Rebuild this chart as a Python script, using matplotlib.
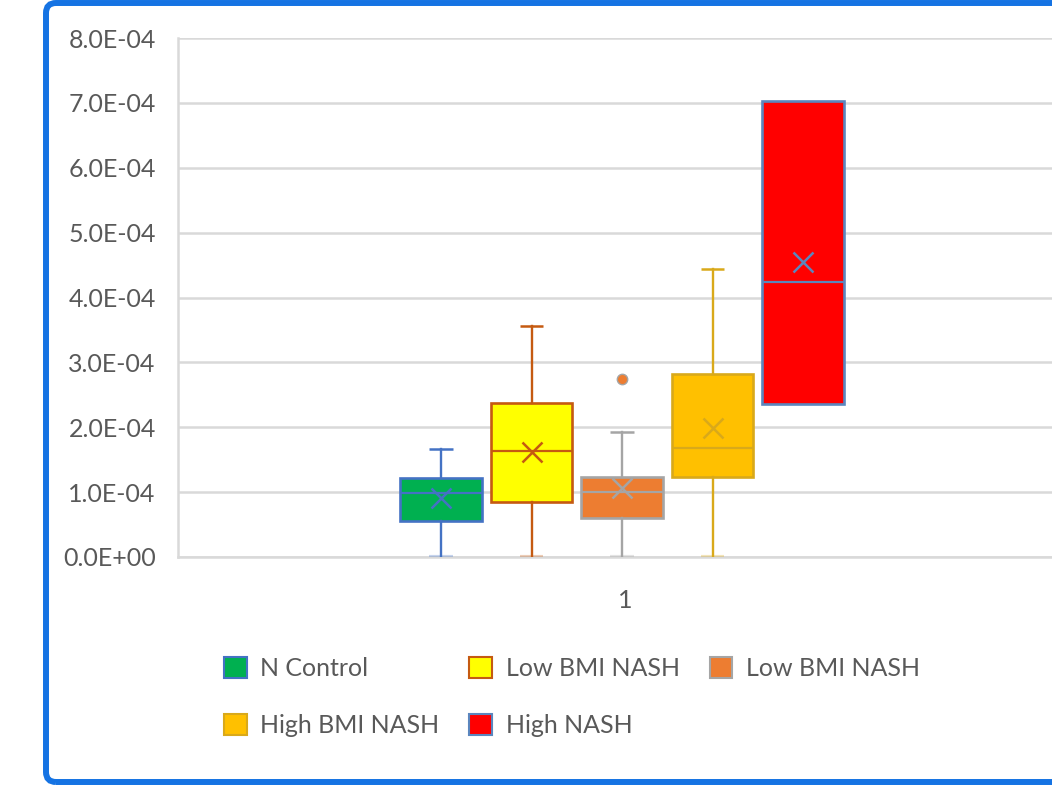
import matplotlib.pyplot as plt
from matplotlib.patches import Patch, FancyBboxPatch
from matplotlib.transforms import IdentityTransform
from matplotlib.ticker import FuncFormatter

# ==== 字体 ====
plt.rcParams['font.family'] = ['Lato', 'DejaVu Sans']

# ========= 数据 =========
groups = ["N Control", "Low BMI NASH", "Low BMI NASH", "High BMI NASH", "High NASH"]
q1 = [0.55e-4, 0.85e-4, 0.60e-4, 1.23e-4, 2.36e-4]
median = [0.99e-4, 1.63e-4, 1.00e-4, 1.68e-4, 4.24e-4]
q3 = [1.22e-4, 2.37e-4, 1.23e-4, 2.82e-4, 7.03e-4]
whisker_low = [0.0, 0.0, 0.0, 0.0, 2.36e-4]
whisker_high = [1.66e-4, 3.56e-4, 1.93e-4, 4.44e-4, 7.03e-4]
mean = [0.91e-4, 1.62e-4, 1.06e-4, 1.99e-4, 4.55e-4]
outliers = [[], [], [2.74e-4], [], []]
category = "1"
y_ticks = [0, 1e-4, 2e-4, 3e-4, 4e-4, 5e-4, 6e-4, 7e-4, 8e-4]

fill_colors = ["#00B050", "#FFFF00", "#ED7D31", "#FFC000", "#FF0000"]
line_colors = ["#4472C4", "#C55A11", "#A5A5A5", "#D9A91A", "#5B86BE"]
text_color = "#595959"
grid_color = "#D9D9D9"

W, H = 1052, 793
fig = plt.figure(figsize=(W / 100, H / 100), dpi=100)

# 外框（蓝色圆角）
frame = FancyBboxPatch((46, 11), 1100, 779, boxstyle="round,pad=0,rounding_size=10",
                       transform=IdentityTransform(), facecolor="none",
                       edgecolor="#1573E3", linewidth=4.3, zorder=5)
fig.patches.append(frame)

ax = fig.add_axes([178 / W, 236 / H, 894 / W, 519 / H])
ax.set_facecolor("none")

positions = [1, 2, 3, 4, 5]
stats = []
for i in range(len(groups)):
    stats.append(dict(med=median[i], q1=q1[i], q3=q3[i], whislo=whisker_low[i],
                      whishi=whisker_high[i], mean=mean[i], fliers=outliers[i],
                      label=groups[i]))

bp = ax.bxp(stats, positions=positions, widths=0.9, patch_artist=True,
            showmeans=True, showcaps=False, zorder=3)

for i, box in enumerate(bp['boxes']):
    box.set_facecolor(fill_colors[i])
    box.set_edgecolor(line_colors[i])
    box.set_linewidth(1.9)
    bp['medians'][i].set_color(line_colors[i])
    bp['medians'][i].set_linewidth(1.6)
    bp['means'][i].set(marker='x', markersize=14.5, markeredgewidth=1.8,
                       markeredgecolor=line_colors[i])
    bp['fliers'][i].set(marker='o', markersize=7.5, markerfacecolor=fill_colors[i],
                        markeredgecolor=line_colors[i], markeredgewidth=1)
for j, wl in enumerate(bp['whiskers']):
    wl.set_color(line_colors[j // 2])
    wl.set_linewidth(1.7)

# 须的端线：下端颜色较浅
for i in range(len(groups)):
    if whisker_high[i] > q3[i]:
        ax.hlines(whisker_high[i], positions[i] - 0.13, positions[i] + 0.13,
                  color=line_colors[i], linewidth=1.8, zorder=3)
    if whisker_low[i] < q1[i]:
        ax.hlines(whisker_low[i], positions[i] - 0.13, positions[i] + 0.13,
                  color=line_colors[i], linewidth=3, alpha=0.3, zorder=3)

ax.set_xlim(-1.906, 7.972)
ax.set_ylim(0, 8e-4)
ax.set_yticks(y_ticks)
ax.yaxis.set_major_formatter(FuncFormatter(lambda v, p: "{:.1E}".format(v)))
ax.set_xticks([sum(ax.get_xlim()) / 2])
ax.set_xticklabels([category])
ax.tick_params(axis='both', length=0, labelsize=18, labelcolor=text_color)
ax.tick_params(axis='y', pad=16)
ax.tick_params(axis='x', pad=23)
ax.grid(axis='y', color=grid_color, linewidth=1.8, zorder=1)
ax.set_axisbelow(True)
for s in ['top', 'right']:
    ax.spines[s].set_visible(False)
for s in ['left', 'bottom']:
    ax.spines[s].set_color(grid_color)
    ax.spines[s].set_linewidth(1.8)

# 图例（按行排列）
handles = [Patch(facecolor=fill_colors[i], edgecolor=line_colors[i], linewidth=1.5)
           for i in range(len(groups))]
order = [0, 3, 1, 4, 2]
fig.legend([handles[k] for k in order], [groups[k] for k in order], ncol=3,
           loc='upper left', bbox_to_anchor=(224 / W, 1 - 657 / H), frameon=False,
           fontsize=18, labelcolor=text_color, handlelength=0.9, handleheight=0.9,
           handletextpad=0.55, columnspacing=1.2, labelspacing=1.35,
           borderpad=0, borderaxespad=0)

fig.savefig("out.png", dpi=100)
